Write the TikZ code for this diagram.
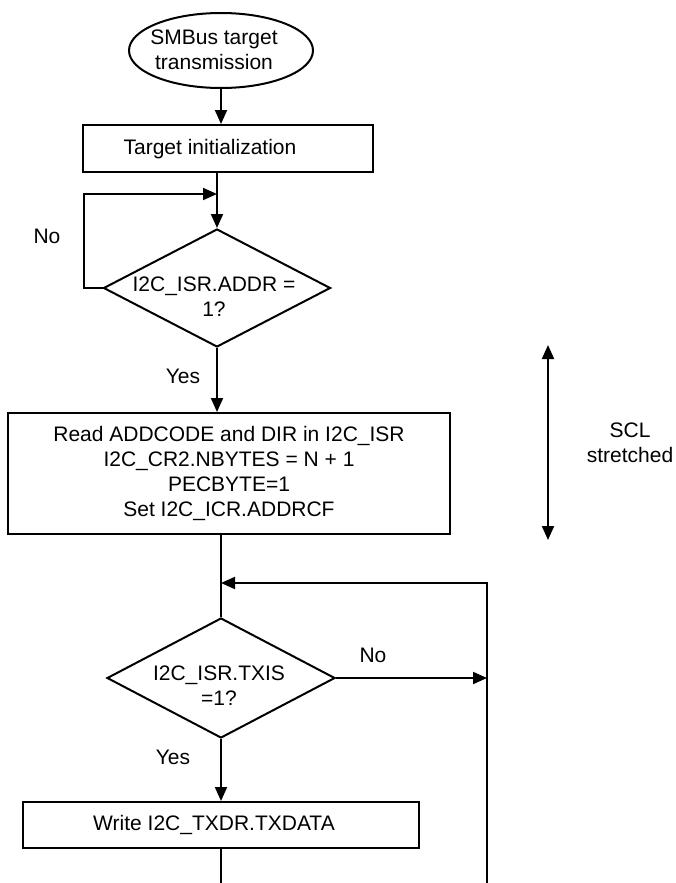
\documentclass[tikz,border=0pt]{standalone}
\usepackage{fontspec}
\setmainfont{Liberation Sans}
\usetikzlibrary{arrows.meta,shapes.geometric}
\tikzset{
	flow/.style={line width=2pt},
	arr/.style={flow, -{Triangle[length=14pt,width=12pt]}},
	twoarr/.style={flow, {Triangle[length=14pt,width=12pt]}-{Triangle[length=14pt,width=12pt]}},
	box/.style={draw, line width=2pt, inner sep=0pt},
	txt/.style={font=\fontsize{21}{25}\selectfont, align=center, inner sep=0pt},
}

\begin{document}
\begin{tikzpicture}[x=1pt, y=-1pt]
		%%%%% START %%%%%
		\useasboundingbox (0,0) rectangle (675,883);
		
		\node[box, ellipse, minimum width=184pt, minimum height=75pt] (start) at (221,50.5) {};
		\node[txt] (startt) at (214,50) {SMBus target\\transmission};
		
		\node[box, minimum width=290pt, minimum height=47pt] (init) at (228,148.5) {};
		\node[txt] (initt) at (210,149) {Target initialization};
		\draw[arr] (start.south) -- (start.south |- init.north);
		
		\node[box, diamond, minimum width=227pt, minimum height=118pt] (addr) at (217,288) {};
		\node[txt] (addrt) at (214,297) {I2C\_ISR.ADDR =\\1?};
		\draw[arr] (init.south -| addr.north) -- (addr.north);
		\draw[arr] (addr.west) -- ++(-19,0) |- (addr.north |- 0,194);
		\node[txt] (no1) at (47,236) {No};
		\node[txt] (yes1) at (183,376) {Yes};
		
		\node[box, txt, minimum width=442pt, minimum height=121pt] (read) at (229,473.5) {Read ADDCODE and DIR in I2C\_ISR\\I2C\_CR2.NBYTES = N + 1\\PECBYTE=1\\Set I2C\_ICR.ADDRCF};
		\draw[arr] (addr.south) -- (addr.south |- read.north);
		
		\coordinate (sclup) at (548,345);
		\coordinate (scldown) at (548,540);
		\draw[twoarr] (sclup) -- (scldown);
		\node[txt] (scl) at (630,442.5) {SCL\\stretched};
		
		\node[box, diamond, minimum width=228pt, minimum height=120pt] (txis) at (221,678) {};
		\node[txt] (txist) at (219,686) {I2C\_ISR.TXIS\\=1?};
		\coordinate (back) at (221,583);
		\coordinate (rtop) at (487,583);
		\coordinate (rbot) at (487,883);
		\draw[flow] (read.south -| txis.north) -- (txis.north);
		\draw[arr] (rbot) -- (rtop) -- (back);
		\draw[arr] (txis.east) -- (txis.east -| rtop);
		\node[txt] (no2) at (373,655) {No};
		\node[txt] (yes2) at (173,757) {Yes};
		
		\node[box, minimum width=396pt, minimum height=46pt] (write) at (221,825) {};
		\node[txt] (writet) at (214,825) {Write I2C\_TXDR.TXDATA};
		\draw[arr] (txis.south) -- (write.north);
		\draw[flow] (write.south) -- (write.south |- rbot);
		
		%%%%% END %%%%%
\end{tikzpicture}
\end{document}
